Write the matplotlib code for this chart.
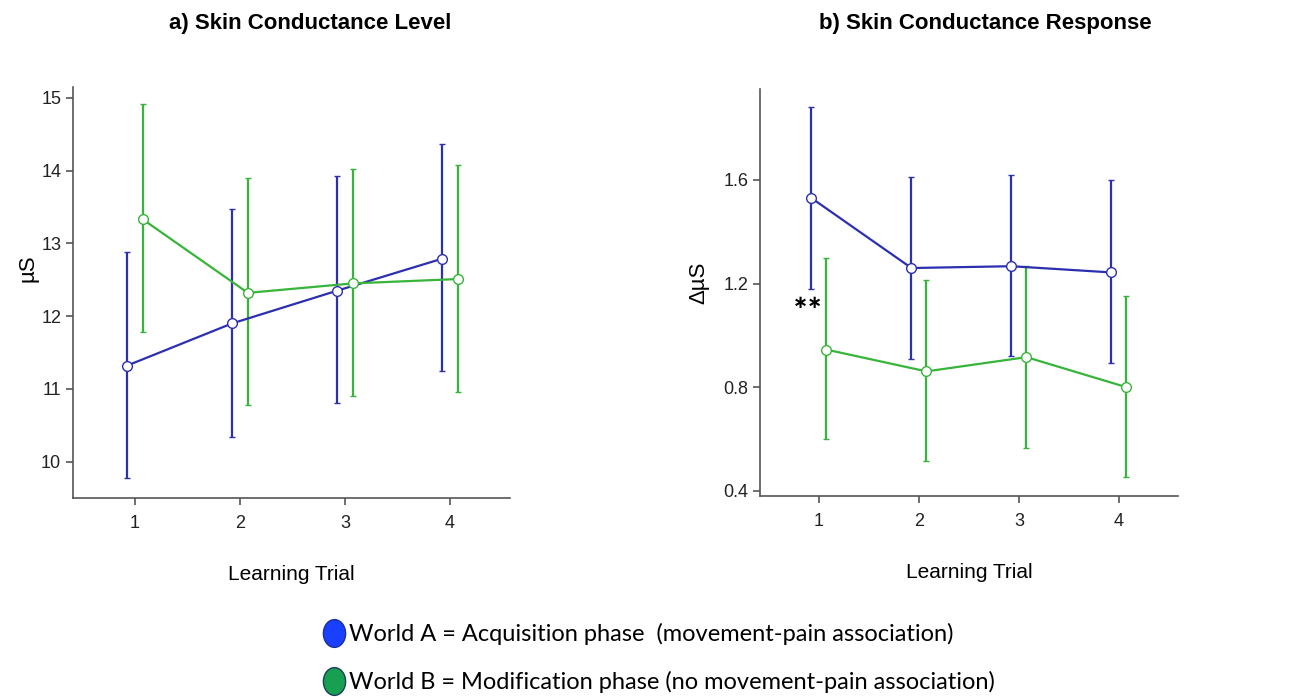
import numpy as np
import matplotlib
matplotlib.use("Agg")
import matplotlib.pyplot as plt
from matplotlib.lines import Line2D
from matplotlib.path import Path
from matplotlib.transforms import Affine2D

plt.rcParams['font.family'] = ['Liberation Sans', 'DejaVu Sans']

trials = [1, 2, 3, 4]

# a) skin conductance level (uS)
scl_a = [11.32, 11.90, 12.35, 12.79]
scl_a_lo = [9.77, 10.34, 10.80, 11.25]
scl_a_hi = [12.88, 13.47, 13.92, 14.36]
scl_b = [13.33, 12.32, 12.45, 12.51]
scl_b_lo = [11.78, 10.78, 10.90, 10.96]
scl_b_hi = [14.91, 13.90, 14.02, 14.08]

# b) skin conductance response (delta uS)
scr_a = [1.53, 1.26, 1.267, 1.243]
scr_a_lo = [1.18, 0.91, 0.92, 0.895]
scr_a_hi = [1.882, 1.61, 1.62, 1.598]
scr_b = [0.945, 0.861, 0.916, 0.80]
scr_b_lo = [0.599, 0.515, 0.564, 0.454]
scr_b_hi = [1.297, 1.213, 1.266, 1.152]

blue = '#2b2fb0'
green = '#36b53a'
dodge = 0.075

fig = plt.figure(figsize=(12.96, 6.97), dpi=100)
ax1 = fig.add_axes([0.0563, 0.2855, 0.3372, 0.5897])
ax2 = fig.add_axes([0.5864, 0.2884, 0.3225, 0.5835])


def draw(ax, m, lo, hi, color, off):
    x = np.array(trials) + off
    m = np.array(m)
    yerr = [m - np.array(lo), np.array(hi) - m]
    ax.errorbar(x, m, yerr=yerr, color=color, lw=1.6, elinewidth=1.6,
                capsize=2, capthick=1.6, marker='o', ms=7,
                mfc='white', mec=color, mew=1.0, zorder=3)


draw(ax1, scl_a, scl_a_lo, scl_a_hi, blue, -dodge)
draw(ax1, scl_b, scl_b_lo, scl_b_hi, green, dodge)
draw(ax2, scr_a, scr_a_lo, scr_a_hi, blue, -dodge)
draw(ax2, scr_b, scr_b_lo, scr_b_hi, green, dodge)

ax1.set_xlim(0.41, 4.57)
ax1.set_ylim(9.5, 15.15)
ax1.set_yticks([10, 11, 12, 13, 14, 15])
ax1.set_ylabel('µS', fontsize=16)
ax1.yaxis.set_label_coords(-0.080, 0.56)

ax2.set_xlim(0.41, 4.59)
ax2.set_ylim(0.38, 1.95)
ax2.set_yticks([0.4, 0.8, 1.2, 1.6])
ax2.set_yticklabels(['0.4', '0.8', '1.2', '1.6'])
ax2.set_ylabel('ΔµS', fontsize=16)
ax2.yaxis.set_label_coords(-0.12, 0.525)
ax2.text(0.887, 1.125, '∗∗', family='DejaVu Sans', fontsize=13,
         fontweight='bold', ha='center', va='center')

for ax in (ax1, ax2):
    ax.set_xticks(trials)
    ax.set_xlabel('Learning Trial', fontsize=15, labelpad=24)
    for s in ('top', 'right'):
        ax.spines[s].set_visible(False)
    for s in ('left', 'bottom'):
        ax.spines[s].set_color('#555555')
        ax.spines[s].set_linewidth(1.2)
    ax.tick_params(colors='#555555', labelcolor='#222222', labelsize=13,
                   length=5, width=1.2)
    ax.tick_params(axis='x', pad=7)

fig.text(0.239, 0.966, 'a) Skin Conductance Level', fontsize=16,
         fontweight='bold', ha='center', va='center')
fig.text(0.760, 0.966, 'b) Skin Conductance Response', fontsize=16,
         fontweight='bold', ha='center', va='center')

oval = Path.unit_circle().transformed(Affine2D().scale(0.8, 1.0))
handles = [
    Line2D([], [], ls='none', marker=oval, ms=20, mfc='#1a40ff', mec='#1a2f99'),
    Line2D([], [], ls='none', marker=oval, ms=20, mfc='#16a050', mec='#1a3f5f'),
]
labels = [
    'World A = Acquisition phase  (movement-pain association)',
    'World B = Modification phase (no movement-pain association)',
]
fig.legend(handles, labels, loc='upper left', bbox_to_anchor=(0.243, 0.12),
           frameon=False, prop={'family': 'Lato', 'size': 17},
           handletextpad=0.25, labelspacing=1.1,
           handlelength=0.8, borderaxespad=0)

fig.savefig('out.png', dpi=100)
